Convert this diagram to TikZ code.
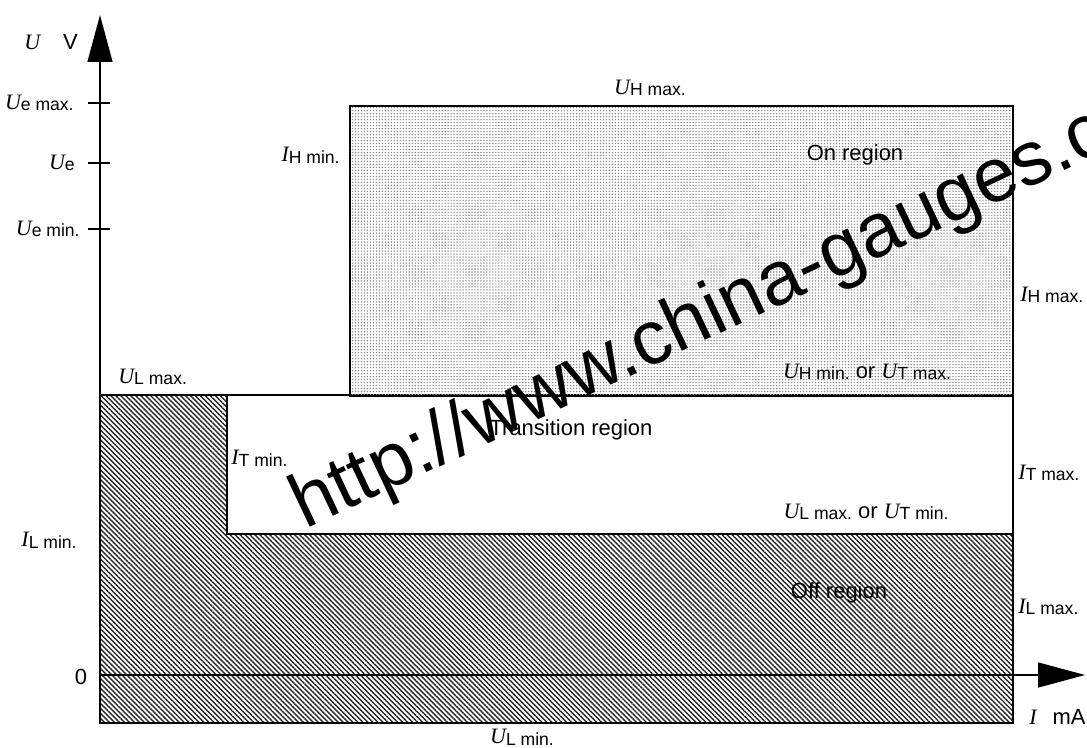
\documentclass[tikz,border=0pt]{standalone}
\usepackage{fontspec}
\setmainfont{Liberation Sans}
\newfontfamily\serif{Liberation Serif}
\usetikzlibrary{arrows.meta,patterns.meta}

\newcommand{\qsub}[2]{{\serif\itshape #1}\raisebox{-1pt}{\fontsize{10}{11}\selectfont #2}}

\tikzset{
  lbl/.style={inner sep=0pt, font=\fontsize{12.5}{14}\selectfont},
  axis/.style={line width=0.8pt, -{Triangle[length=0.94cm,width=0.5cm]}},
  region/.style={line width=1pt},
}

\begin{document}
\begin{tikzpicture}
    \useasboundingbox (-2.0,-1.44) rectangle (19.74,13.5);
    % regions
    \draw [region, pattern={Lines[angle=-45,distance=2pt,line width=0.8pt]}, pattern color=black!85]
        (0,5.6) -- (2.54,5.6) -- (2.54,2.82) -- (18.26,2.82) -- (18.26,-0.96) -- (0,-0.96) -- cycle;
    \draw [region] (2.54,2.82) rectangle (18.26,5.6);
    \draw [region, pattern={Dots[distance=1.7pt,radius=0.45pt]}, pattern color=black!45]
        (5.0,5.58) rectangle (18.26,11.38);

    % axes
    \coordinate (O) at (0,0);
    \coordinate (ybot) at (0,-0.96);
    \coordinate (ytip) at (0,13.2);
    \coordinate (xtip) at (19.7,0);
    \draw [axis] (ybot) -- (ytip);
    \draw [axis] (O) -- (xtip);
    \foreach \y in {11.44,10.24,8.92} {
        \draw [line width=0.8pt] (-0.24,\y) -- (0.2,\y);
    }

    \node [lbl] (uv) at (-0.98,12.65) {{\serif\itshape U}\hspace{13pt}V};
    \node [lbl,anchor=east] (uemax) at (-0.52,11.44) {\qsub{U}{e max.}};
    \node [lbl,anchor=east] (ue) at (-0.5,10.24) {\qsub{U}{e}};
    \node [lbl,anchor=east] (uemin) at (-0.4,8.92) {\qsub{U}{e min.}};
    \node [lbl,anchor=east] (ilmin) at (-0.46,2.7) {\qsub{I}{L min.}};
    \node [lbl] (zero) at (-0.38,-0.04) {0};

    \node [lbl] (uhmax) at (11.0,11.74) {\qsub{U}{H max.}};
    \node [lbl,anchor=east] (ihmin) at (4.8,10.4) {\qsub{I}{H min.}};
    \node [lbl] (onreg) at (15.1,10.4) {On region};
    \node [lbl,anchor=west] (ihmax) at (18.4,7.6) {\qsub{I}{H max.}};
    \node [lbl] (uhmin) at (15.34,6.06) {\qsub{U}{H min.} or \qsub{U}{T max.}};

    \node [lbl,anchor=west] (ulmax) at (0.36,5.96) {\qsub{U}{L max.}};
    \node [lbl] (transreg) at (9.42,4.9) {Transition region};
    \node [lbl,anchor=west] (itmin) at (2.62,4.34) {\qsub{I}{T min.}};
    \node [lbl,anchor=west] (itmax) at (18.36,4.04) {\qsub{I}{T max.}};
    \node [lbl] (ulmaxb) at (15.32,3.26) {\qsub{U}{L max.} or \qsub{U}{T min.}};

    \node [lbl] (offreg) at (14.78,1.64) {Off region};
    \node [lbl,anchor=west] (ilmax) at (18.36,1.36) {\qsub{I}{L max.}};
    \node [lbl] (ima) at (19.15,-0.84) {{\serif\itshape I}\hspace{9pt}mA};
    \node [lbl] (ulmin) at (8.44,-1.24) {\qsub{U}{L min.}};

    \node [font=\fontsize{43.5}{48}\selectfont, rotate=25.3, anchor=base west, inner sep=0pt]
        (url) at (4.1,2.9) {http://www.china-gauges.c};
\end{tikzpicture}
\end{document}
